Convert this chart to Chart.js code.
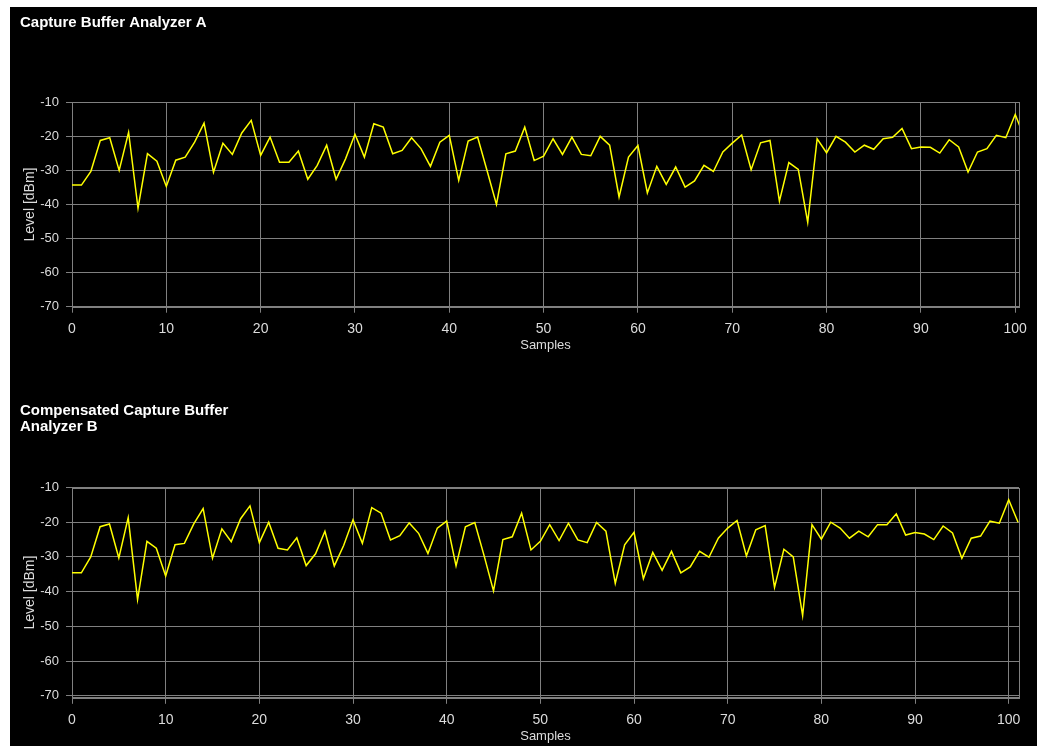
<!DOCTYPE html>
<html>
<head>
<meta charset="utf-8">
<title>Capture Buffer Analyzer</title>
<script src="https://cdn.jsdelivr.net/npm/chart.js@4.4.1/dist/chart.umd.min.js"></script>
<style>
  html, body { margin: 0; padding: 0; background: #ffffff; }
  #panel { position: absolute; left: 10px; top: 7px; width: 1027px; height: 739px; background: #000000; overflow: hidden; }
  #panel canvas { position: absolute; left: 0; }
  #analyzerA { top: 0; width: 1027px; height: 373px; }
  #analyzerB { top: 373px; width: 1027px; height: 366px; }
</style>
</head>
<body>
<div id="panel">
  <canvas id="analyzerA" width="1027" height="373"></canvas>
  <canvas id="analyzerB" width="1027" height="366"></canvas>
</div>
<script>
// Axis tick values
const levelTicks = [-10, -20, -30, -40, -50, -60, -70];
const sampleTicks = [0, 10, 20, 30, 40, 50, 60, 70, 80, 90, 100];

// Analyzer A: measured level per sample [dBm]
const levelA = [
  -34.3, -34.3, -30.3, -21.2, -20.4, -30.0, -18.8, -41.1, -25.1, -27.3,
  -34.7, -27.0, -26.1, -21.7, -16.1, -30.5, -22.0, -25.3, -19.0, -15.3,
  -25.6, -20.2, -27.6, -27.6, -24.3, -32.6, -28.5, -22.6, -32.6, -26.6,
  -19.4, -26.1, -16.3, -17.3, -25.1, -24.1, -20.4, -23.6, -28.8, -21.7,
  -19.7, -32.9, -21.4, -20.2, -30.0, -40.0, -25.1, -24.3, -17.3, -27.1,
  -25.8, -20.7, -25.3, -20.2, -25.3, -25.7, -20.0, -22.6, -37.8, -26.1,
  -22.7, -36.6, -28.8, -34.1, -29.0, -34.9, -33.1, -28.5, -30.3, -24.6,
  -22.0, -19.6, -29.8, -21.9, -21.2, -39.0, -27.7, -29.7, -45.2, -20.7,
  -24.8, -20.0, -21.7, -24.6, -22.6, -23.8, -20.7, -20.3, -17.7, -23.6,
  -23.1, -23.2, -24.9, -21.0, -23.1, -30.5, -24.6, -23.6, -19.7, -20.4,
  -13.6, -20.5
];

// Analyzer B: compensated level per sample [dBm]
const levelB = [
  -34.6, -34.6, -30.0, -21.3, -20.5, -30.3, -18.7, -42.3, -25.5, -27.5,
  -35.5, -26.5, -26.1, -20.5, -16.1, -30.4, -21.9, -25.6, -19.0, -15.3,
  -25.9, -20.0, -27.5, -28.0, -24.5, -32.5, -29.1, -22.6, -32.6, -26.7,
  -19.3, -26.1, -15.8, -17.4, -25.1, -23.9, -20.2, -23.2, -29.0, -21.7,
  -19.7, -32.6, -21.3, -20.1, -29.7, -39.8, -25.0, -24.2, -17.4, -28.0,
  -25.5, -20.7, -25.3, -20.3, -25.1, -25.9, -20.1, -22.6, -37.6, -26.5,
  -22.9, -36.3, -28.7, -33.9, -28.4, -34.6, -32.9, -28.4, -30.1, -24.6,
  -21.7, -19.5, -29.7, -22.2, -21.0, -38.8, -27.8, -30.0, -46.9, -20.7,
  -24.9, -20.0, -21.7, -24.6, -22.6, -24.2, -20.7, -20.7, -17.6, -23.7,
  -23.0, -23.4, -25.0, -21.1, -23.1, -30.4, -24.6, -24.0, -19.7, -20.3,
  -13.5, -20.0
];

const FONT = '"Liberation Sans", Arial, Helvetica, sans-serif';
const GRID = '#808080';
const TEXT = '#dcdcdc';
const TRACE = '#ffff00';

// Outlines the whole plot area so the right and bottom edges are closed
const plotFrame = {
  id: 'plotFrame',
  beforeDatasetsDraw(chart) {
    const { ctx, chartArea: a } = chart;
    const l = Math.round(a.left), t = Math.round(a.top);
    const r = Math.round(a.right), b = Math.round(a.bottom);
    ctx.save();
    ctx.strokeStyle = GRID;
    ctx.lineWidth = 1;
    ctx.strokeRect(l + 0.5, t + 0.5, r - l, b - t);
    ctx.restore();
  }
};

function toPoints(values) {
  return values.map((v, i) => ({ x: i, y: v }));
}

function buildAnalyzer(canvasId, titleText, values, view) {
  return new Chart(document.getElementById(canvasId), {
    type: 'line',
    data: {
      datasets: [{
        data: toPoints(values),
        borderColor: TRACE,
        borderWidth: 1.5,
        pointRadius: 0,
        pointHoverRadius: 0,
        tension: 0,
        fill: false
      }]
    },
    options: {
      responsive: false,
      animation: false,
      devicePixelRatio: 1,
      events: [],
      layout: { padding: view.padding },
      plugins: {
        legend: { display: false },
        tooltip: { enabled: false },
        title: {
          display: true,
          text: titleText,
          align: 'start',
          color: '#ffffff',
          font: { family: FONT, size: 15, weight: 'bold', lineHeight: view.titleLineHeight },
          padding: { top: view.titleTop, bottom: view.titleBottom }
        }
      },
      scales: {
        x: {
          type: 'linear',
          min: 0,
          max: view.xMax,
          afterBuildTicks: (s) => { s.ticks = sampleTicks.map(v => ({ value: v })); },
          afterFit: (s) => { s.height = 46.5; },
          grid: { color: GRID, tickColor: GRID, tickLength: 6, lineWidth: 1 },
          border: { display: true, color: GRID },
          ticks: { color: TEXT, font: { family: FONT, size: 14 }, padding: 8, maxRotation: 0, autoSkip: false },
          title: { display: true, text: 'Samples', color: TEXT, font: { family: FONT, size: 13 }, padding: { top: 0, bottom: 0 } }
        },
        y: {
          type: 'linear',
          min: view.yMin,
          max: -10,
          afterBuildTicks: (s) => { s.ticks = levelTicks.map(v => ({ value: v })); },
          afterFit: (s) => { s.width = 52; },
          grid: { color: GRID, tickColor: GRID, tickLength: 6, lineWidth: 1 },
          border: { display: true, color: GRID },
          ticks: { color: TEXT, font: { family: FONT, size: 13 }, padding: 7, autoSkip: false },
          title: { display: true, text: 'Level [dBm]', color: TEXT, font: { family: FONT, size: 14 }, padding: { top: 2.2, bottom: 0 } }
        }
      }
    },
    plugins: [plotFrame]
  });
}

buildAnalyzer('analyzerA', 'Capture Buffer Analyzer A', levelA, {
  xMax: 100.4,
  yMin: -70,
  titleLineHeight: 1.2,
  titleTop: 7,
  titleBottom: 70.3,
  padding: { left: 10, right: 18, top: 0, bottom: 26.8 }
});

buildAnalyzer('analyzerB', ['Compensated Capture Buffer', 'Analyzer B'], levelB, {
  xMax: 101.1,
  yMin: -70.6,
  titleLineHeight: 1.1,
  titleTop: 22.25,
  titleBottom: 52.25,
  padding: { left: 10, right: 18, top: 0, bottom: 1.7 }
});
</script>
</body>
</html>
